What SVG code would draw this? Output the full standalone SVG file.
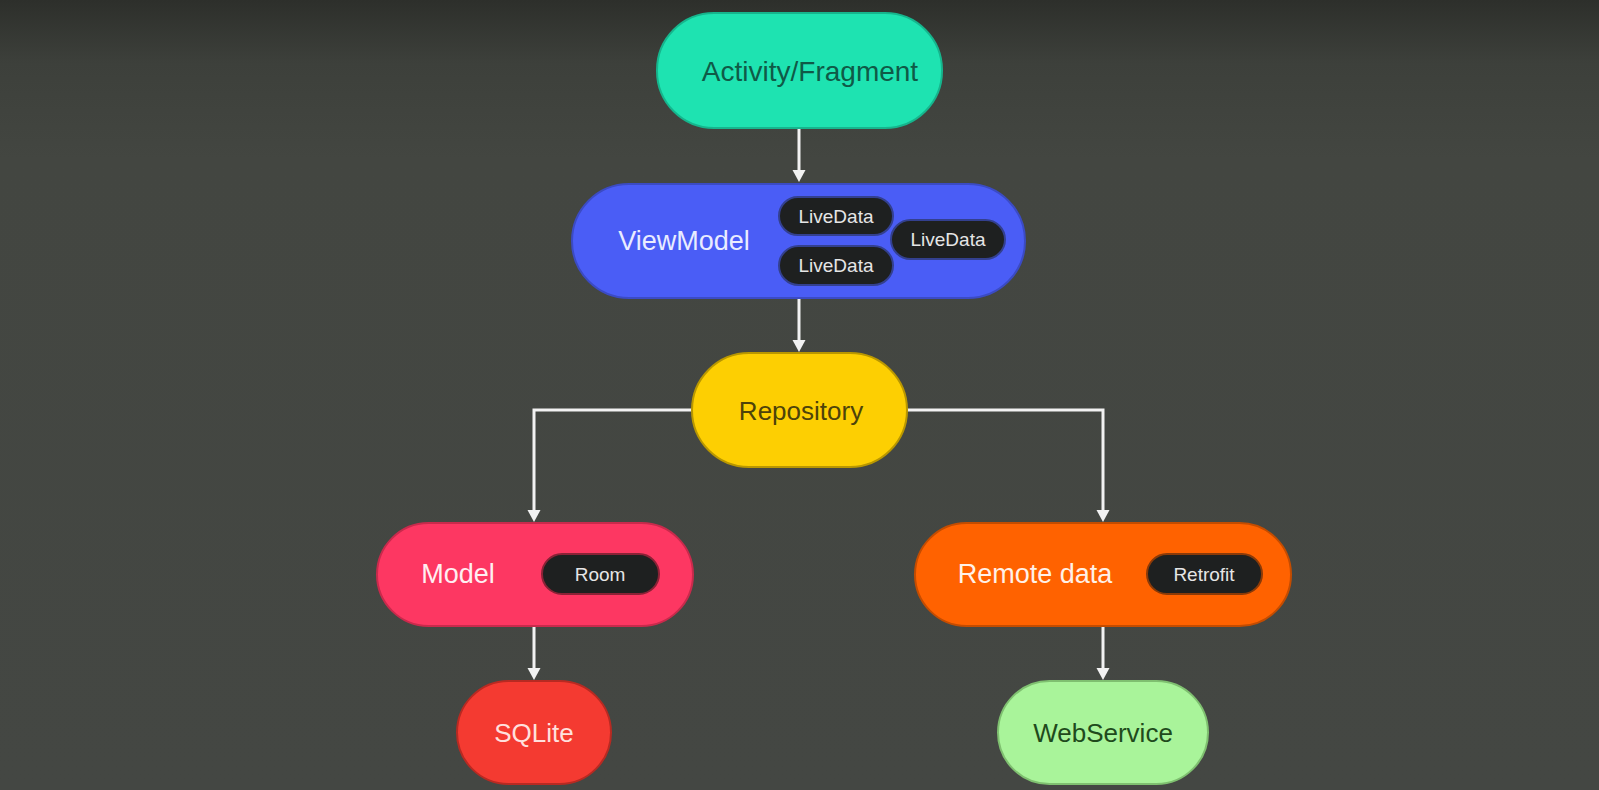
<svg xmlns="http://www.w3.org/2000/svg" width="1599" height="790" viewBox="0 0 1599 790">
  <defs>
    <linearGradient id="bg" x1="0" y1="0" x2="0" y2="1">
      <stop offset="0" stop-color="#2d2f2b"/>
      <stop offset="0.08" stop-color="#3d403b"/>
      <stop offset="0.2" stop-color="#434641"/>
      <stop offset="1" stop-color="#444743"/>
    </linearGradient>
    <marker id="arrow" markerUnits="userSpaceOnUse" markerWidth="14" markerHeight="14" refX="3" refY="6.5" orient="auto">
      <path d="M0,0 L12,6.5 L0,13 z" fill="#f2f2f2"/>
    </marker>
    <style>
      .lbl { font-family: "Liberation Sans", Arial, sans-serif; text-anchor: middle; }
      .big { font-size: 27px; }
      .pill { fill: #1e2020; stroke-width: 2; }
      .pilltxt { font-family: "Liberation Sans", Arial, sans-serif; text-anchor: middle; font-size: 19px; fill: #e6e6e6; }
      .conn { fill: none; stroke: #f2f2f2; stroke-width: 3; marker-end: url(#arrow); }
    </style>
  </defs>
  <rect x="0" y="0" width="1599" height="790" fill="url(#bg)"/>

  <g id="connectors">
    <path class="conn" d="M799,128 V173"/>
    <path class="conn" d="M799,298 V343"/>
    <path class="conn" d="M692,410 H534 V513"/>
    <path class="conn" d="M907,410 H1103 V513"/>
    <path class="conn" d="M534,626 V671"/>
    <path class="conn" d="M1103,626 V671"/>
  </g>

  <g id="activity-fragment">
    <rect x="657" y="13" width="285" height="115" rx="57" fill="#1ee3b1" stroke="#16b58d" stroke-width="2"/>
    <text class="lbl" x="810" y="81" font-size="28" fill="#0f5a47">Activity/Fragment</text>
  </g>

  <g id="viewmodel">
    <rect x="572" y="184" width="453" height="114" rx="57" fill="#4a5df6" stroke="#3b4bc4" stroke-width="2"/>
    <text class="lbl big" x="684" y="250" fill="#e9ecff">ViewModel</text>
    <g id="livedata-1">
      <rect class="pill" x="779" y="197" width="114" height="38" rx="19" stroke="#33408f"/>
      <text class="pilltxt" x="836" y="223">LiveData</text>
    </g>
    <g id="livedata-2">
      <rect class="pill" x="891" y="220" width="114" height="39" rx="19.5" stroke="#33408f"/>
      <text class="pilltxt" x="948" y="246">LiveData</text>
    </g>
    <g id="livedata-3">
      <rect class="pill" x="779" y="246" width="114" height="39" rx="19.5" stroke="#33408f"/>
      <text class="pilltxt" x="836" y="272">LiveData</text>
    </g>
  </g>

  <g id="repository">
    <rect x="692" y="353" width="215" height="114" rx="57" fill="#fdcf02" stroke="#b99700" stroke-width="2"/>
    <text class="lbl" x="801" y="420" font-size="26" fill="#4d430a">Repository</text>
  </g>

  <g id="model">
    <rect x="377" y="523" width="316" height="103" rx="51.5" fill="#fd3762" stroke="#c92a4c" stroke-width="2"/>
    <text class="lbl big" x="458" y="583" fill="#ffeef1">Model</text>
    <g id="room">
      <rect class="pill" x="542" y="554" width="117" height="40" rx="20" stroke="#8a2236"/>
      <text class="pilltxt" x="600" y="581">Room</text>
    </g>
  </g>

  <g id="remote-data">
    <rect x="915" y="523" width="376" height="103" rx="51.5" fill="#ff6200" stroke="#c44c00" stroke-width="2"/>
    <text class="lbl big" x="1035" y="583" fill="#fff1e8">Remote data</text>
    <g id="retrofit">
      <rect class="pill" x="1147" y="554" width="115" height="40" rx="20" stroke="#8a3a08"/>
      <text class="pilltxt" x="1204" y="581">Retrofit</text>
    </g>
  </g>

  <g id="sqlite">
    <rect x="457" y="681" width="154" height="103" rx="51.5" fill="#f43a31" stroke="#b82a22" stroke-width="2"/>
    <text class="lbl" x="534" y="742" font-size="26" fill="#ffe0dd">SQLite</text>
  </g>

  <g id="webservice">
    <rect x="998" y="681" width="210" height="103" rx="51.5" fill="#a9f49a" stroke="#7fc070" stroke-width="2"/>
    <text class="lbl" x="1103" y="742" font-size="26" fill="#1f4a1c">WebService</text>
  </g>
</svg>
